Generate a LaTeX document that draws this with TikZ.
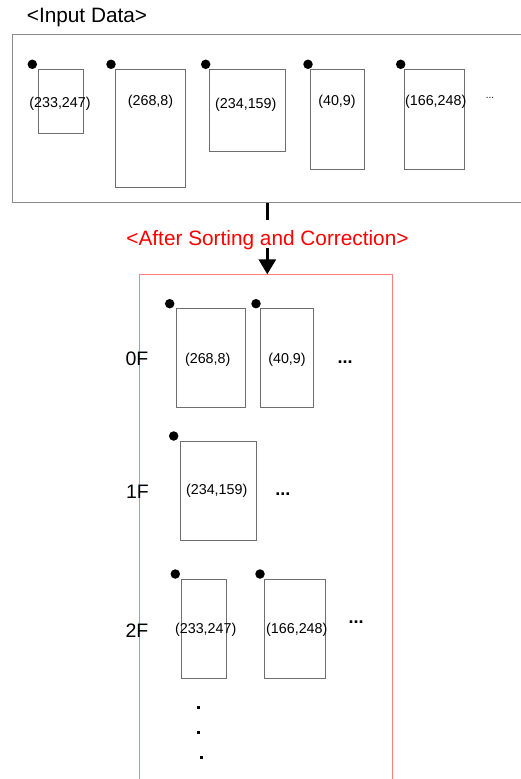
\documentclass[tikz,border=0pt]{standalone}
\usepackage{fontspec}
\setmainfont{Liberation Sans}
\usetikzlibrary{arrows.meta}
\definecolor{boxline}{RGB}{110,110,110}
\definecolor{frameline}{RGB}{140,140,140}
\definecolor{redframe}{RGB}{255,125,125}
\tikzset{
  rec/.style={draw=boxline, line width=1pt, inner sep=0pt, anchor=north west},
  pin/.style={circle, fill=black, inner sep=0pt, minimum size=9.5pt},
  txt/.style={inner sep=0pt, anchor=base},
  lab/.style={txt, font=\fontsize{14.3}{16}\selectfont},
  floor/.style={txt, font=\fontsize{19.5}{22}\selectfont},
  more/.style={txt, font=\bfseries\fontsize{18}{20}\selectfont},
  vdot/.style={fill=black, inner sep=0pt, minimum size=3pt},
}
\begin{document}
\begin{tikzpicture}[x=1pt,y=-1pt]
\useasboundingbox (0,0) rectangle (520,779);

% input frame
\node[txt, font=\fontsize{20.8}{24}\selectfont] (title) at (87,23) {<Input Data>};
\node[draw=frameline, line width=1pt, inner sep=0pt, anchor=north west,
      minimum width=515pt, minimum height=168pt] (input) at (12,34) {};

% input rectangles, each with its corner pin and its coordinates
\node[rec, minimum width=45pt, minimum height=63.4pt] (i1) at (38.3,69.3) {};
\node[pin] (p1) at (32.3,64.3) {};
\node[lab] (l1) at (60,107.5) {(233,247)};

\node[rec, minimum width=70pt, minimum height=118pt] (i2) at (115.3,69.3) {};
\node[pin] (p2) at (111,64.3) {};
\node[lab] (l2) at (150.5,105.5) {(268,8)};

\node[rec, minimum width=75.4pt, minimum height=81.7pt] (i3) at (209.3,69.3) {};
\node[pin] (p3) at (205.7,64.3) {};
\node[lab] (l3) at (245.8,108.5) {(234,159)};

\node[rec, minimum width=53.4pt, minimum height=100pt] (i4) at (310.3,69.3) {};
\node[pin] (p4) at (308,64.3) {};
\node[lab] (l4) at (337,105.5) {(40,9)};

\node[rec, minimum width=60.6pt, minimum height=100pt] (i5) at (403.7,69.3) {};
\node[pin] (p5) at (400.7,64.3) {};
\node[lab] (l5) at (435.7,105.5) {(166,248)};

\node[txt, font=\fontsize{10}{12}\selectfont] (imore) at (490,98.5) {...};

% transition from input to sorted result
\node[txt, text=red, font=\fontsize{20.8}{24}\selectfont] (after) at (267.5,245) {<After Sorting and Correction>};
\coordinate (stubend) at (267.3,220);
\coordinate (arrowstart) at (267.3,248);
\node[draw=redframe, line width=1pt, inner sep=0pt, anchor=north,
      minimum width=252.6pt, minimum height=520pt] (sorted) at (266,274.3) {};
\draw[line width=3pt] (input.south -| stubend) -- (stubend);
\draw[line width=3pt, -{Triangle[width=17pt,length=15pt]}] (arrowstart) -- (sorted.north -| arrowstart);

% floor 0
\node[floor] (f0) at (137,365.5) {0F};
\node[rec, minimum width=69.6pt, minimum height=98.4pt] (a) at (175.7,308.3) {};
\node[pin] (pa) at (169.7,303.7) {};
\node[lab] (la) at (207.7,363) {(268,8)};
\node[rec, minimum width=53pt, minimum height=98.4pt] (b) at (260.3,308.3) {};
\node[pin] (pb) at (256,303.7) {};
\node[lab] (lb) at (287,363) {(40,9)};
\node[more] (m0) at (345,363) {...};

% floor 1
\node[floor] (f1) at (137.5,498) {1F};
\node[rec, minimum width=75.7pt, minimum height=99.3pt] (c) at (180.3,440.7) {};
\node[pin] (pc) at (173.7,436) {};
\node[lab] (lc) at (216.7,494.5) {(234,159)};
\node[more] (m1) at (282.8,495) {...};

% floor 2
\node[floor] (f2) at (137,637) {2F};
\node[rec, minimum width=45pt, minimum height=99.3pt] (d) at (181.3,578.7) {};
\node[pin] (pd) at (175.3,574) {};
\node[lab] (ld) at (205.7,633) {(233,247)};
\node[rec, minimum width=61pt, minimum height=99.3pt] (e) at (264.3,578.7) {};
\node[pin] (pe) at (260,574) {};
\node[lab] (le) at (296.8,633) {(166,248)};
\node[more] (m2) at (356,623) {...};

% further floors
\node[vdot] (v1) at (198.7,707.7) {};
\node[vdot] (v2) at (198.7,732.3) {};
\node[vdot] (v3) at (201.3,757.3) {};
\end{tikzpicture}
\end{document}
